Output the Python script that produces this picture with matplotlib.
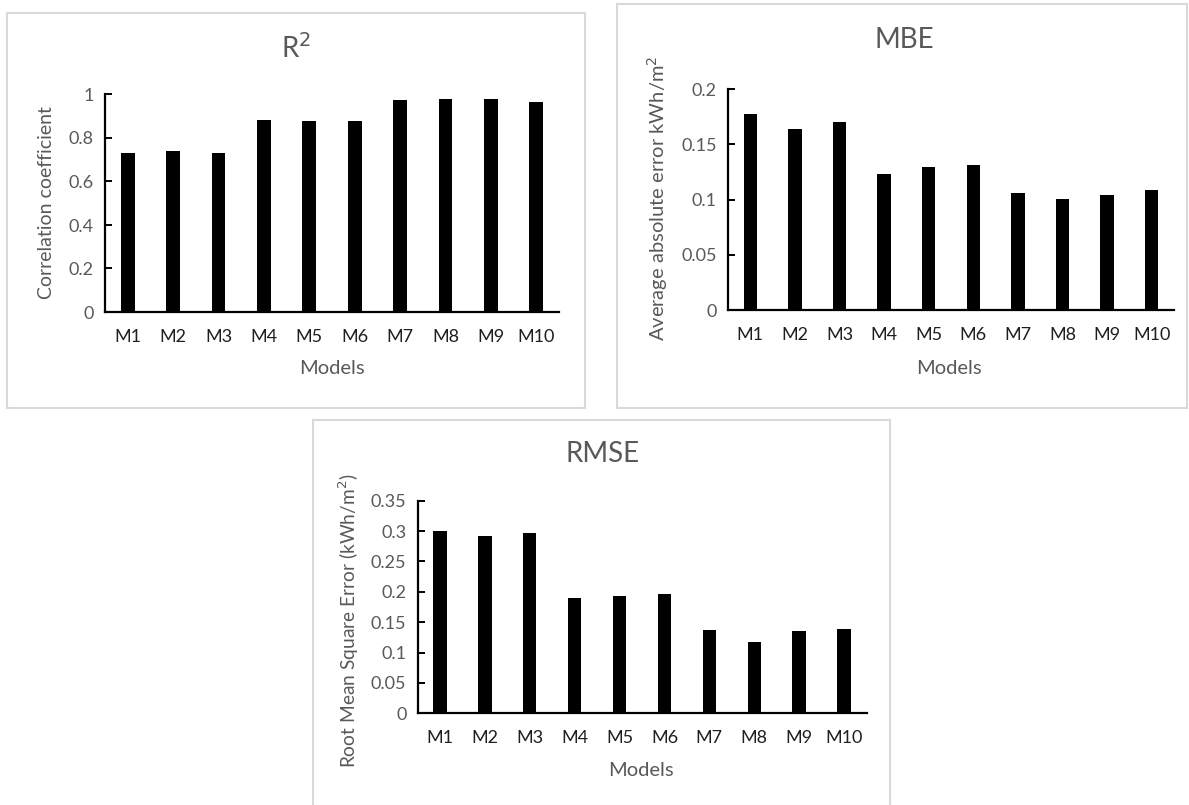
import matplotlib
matplotlib.use("Agg")
import matplotlib.pyplot as plt
from matplotlib.patches import Rectangle

models = ["M1", "M2", "M3", "M4", "M5", "M6", "M7", "M8", "M9", "M10"]
r2_values = [0.732, 0.738, 0.732, 0.882, 0.877, 0.877, 0.975, 0.981, 0.981, 0.965]
mbe_values = [0.1774, 0.1635, 0.1704, 0.1228, 0.1297, 0.1309, 0.1059, 0.1007, 0.1038, 0.1089]
rmse_values = [0.3009, 0.2926, 0.2976, 0.1901, 0.1934, 0.1967, 0.1378, 0.1168, 0.1361, 0.1394]

r2_ticks = [0, 0.2, 0.4, 0.6, 0.8, 1]
r2_ticklabels = ["0", "0.2", "0.4", "0.6", "0.8", "1"]
mbe_ticks = [0, 0.05, 0.1, 0.15, 0.2]
mbe_ticklabels = ["0", "0.05", "0.1", "0.15", "0.2"]
rmse_ticks = [0, 0.05, 0.1, 0.15, 0.2, 0.25, 0.3, 0.35]
rmse_ticklabels = ["0", "0.05", "0.1", "0.15", "0.2", "0.25", "0.3", "0.35"]

plt.rcParams['font.family'] = ['Lato', 'DejaVu Sans']

W, H = 1189, 805
fig = plt.figure(figsize=(W / 100, H / 100), dpi=100)
fig.patch.set_facecolor("white")

GRAY = "#595959"
BORDER = "#d9d9d9"


def fx(x):
    return x / W


def fy(y):
    return 1 - y / H


def box(l, t, r, b):
    fig.patches.append(Rectangle((fx(l), fy(b)), fx(r - l), (b - t) / H,
                                 transform=fig.transFigure, fill=False,
                                 edgecolor=BORDER, linewidth=1.5, zorder=0))


def panel(l, r, top, bottom, values, ticks, ticklabels, title, title_xy,
          ylabel, ylabel_xy, xlabel_xy, ylabel_size):
    ax = fig.add_axes([fx(l), fy(bottom), fx(r - l), (bottom - top) / H])
    x = list(range(len(models)))
    ax.bar(x, values, width=0.3, color="black", zorder=2)
    ax.set_xlim(-0.5, len(models) - 0.5)
    ax.set_ylim(ticks[0], ticks[-1])
    ax.set_yticks(ticks)
    ax.set_yticklabels(ticklabels)
    ax.set_xticks(x)
    ax.set_xticklabels(models)
    ax.set_facecolor("none")
    for s in ["top", "right"]:
        ax.spines[s].set_visible(False)
    for s in ["left", "bottom"]:
        ax.spines[s].set_linewidth(1.6)
        ax.spines[s].set_color("black")
    ax.tick_params(axis="y", direction="in", length=5, width=1.4,
                   labelsize=13, labelcolor=GRAY, pad=8)
    ax.tick_params(axis="x", length=0, labelsize=13, labelcolor="#1f1f1f", pad=12)
    fig.text(fx(title_xy[0]), fy(title_xy[1]), title, ha="center", va="center",
             fontsize=20, color=GRAY)
    fig.text(fx(ylabel_xy[0]), fy(ylabel_xy[1]), ylabel, ha="center", va="center",
             rotation=90, fontsize=ylabel_size, color=GRAY)
    fig.text(fx(xlabel_xy[0]), fy(xlabel_xy[1]), "Models", ha="center", va="center",
             fontsize=14.5, color=GRAY)
    return ax


box(7, 13, 585, 408)
box(617, 4, 1187, 408)
box(313, 420, 890, 806)

panel(105, 559, 94.5, 312, r2_values, r2_ticks, r2_ticklabels,
      "R$^2$", (296, 48), "Correlation coefficient", (47, 203), (332, 369), 14)
panel(728, 1174, 89, 310, mbe_values, mbe_ticks, mbe_ticklabels,
      "MBE", (904, 40), "Average absolute error kWh/m$^2$", (658, 198), (949, 368), 14.5)
panel(417.5, 866.5, 500.7, 713.3, rmse_values, rmse_ticks, rmse_ticklabels,
      "RMSE", (603, 454), "Root Mean Square Error (kWh/m$^2$)", (349, 621), (641, 770), 13.8)

fig.savefig("out.png", dpi=100, facecolor="white")
